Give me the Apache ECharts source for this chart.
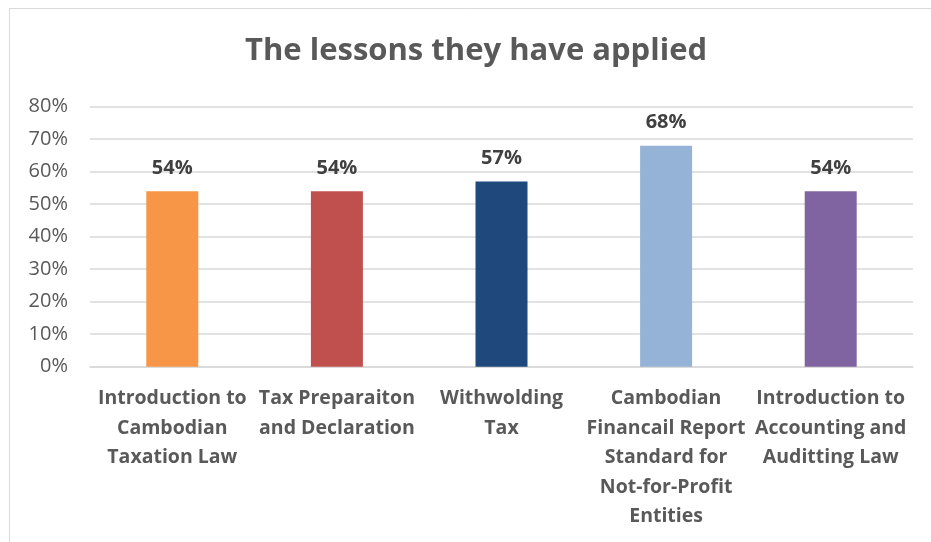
<!DOCTYPE html>
<html>
<head>
<meta charset="utf-8">
<script src="https://cdn.jsdelivr.net/npm/echarts@6/dist/echarts.min.js"></script>
<style>
  html, body { margin: 0; padding: 0; background: #ffffff; }
  #chart { width: 931px; height: 542px; }
</style>
</head>
<body>
<div id="chart"></div>
<script>
// Lessons and the share of respondents who applied each one
const lessons = [
  'Introduction to\nCambodian\nTaxation Law',
  'Tax Preparaiton\nand Declaration',
  'Withwolding\nTax',
  'Cambodian\nFinancail Report\nStandard for\nNot-for-Profit\nEntities',
  'Introduction to\nAccounting and\nAuditting Law'
];
const appliedShare = [0.54, 0.54, 0.57, 0.68, 0.54];
const barColors = ['#F79646', '#C0504D', '#1F497D', '#95B3D7', '#8064A2'];
const titleText = 'The lessons they have applied';

const FONT = '"Open Sans", Lato, sans-serif';
const TEXT = '#595959';

const chart = echarts.init(document.getElementById('chart'), null, { renderer: 'canvas' });

chart.setOption({
  animation: false,
  backgroundColor: '#ffffff',
  graphic: [{
    type: 'rect',
    shape: { x: 9.5, y: 8.5, width: 1000, height: 1000 },
    style: { fill: 'none', stroke: '#d9d9d9', lineWidth: 1 },
    silent: true
  }],
  title: {
    text: titleText,
    left: 240,
    top: 31,
    textStyle: { fontFamily: FONT, fontSize: 31, fontWeight: 'bold', color: TEXT }
  },
  grid: { left: 90, right: 18, top: 106.7, bottom: 175.3, containLabel: false },
  xAxis: {
    type: 'category',
    data: lessons,
    axisLine: { show: true, lineStyle: { color: '#d9d9d9', width: 1.5 } },
    axisTick: { show: false },
    axisLabel: {
      interval: 0,
      margin: 17,
      fontFamily: FONT,
      fontSize: 19.5,
      fontWeight: 'bold',
      color: TEXT,
      lineHeight: 29.5
    }
  },
  yAxis: {
    type: 'value',
    min: 0,
    max: 0.8,
    interval: 0.1,
    axisLine: { show: false },
    axisTick: { show: false },
    splitLine: { lineStyle: { color: '#d9d9d9', width: 1.5 } },
    axisLabel: {
      margin: 22,
      fontFamily: FONT,
      fontSize: 20,
      color: TEXT,
      formatter: v => Math.round(v * 100) + '%'
    }
  },
  series: [{
    type: 'bar',
    data: appliedShare.map((v, i) => ({ value: v, itemStyle: { color: barColors[i] } })),
    barWidth: 52,
    label: {
      show: true,
      position: 'top',
      distance: 13,
      fontFamily: FONT,
      fontSize: 20,
      fontWeight: 'bold',
      color: '#404040',
      formatter: p => Math.round(p.value * 100) + '%'
    }
  }]
});
</script>
</body>
</html>
